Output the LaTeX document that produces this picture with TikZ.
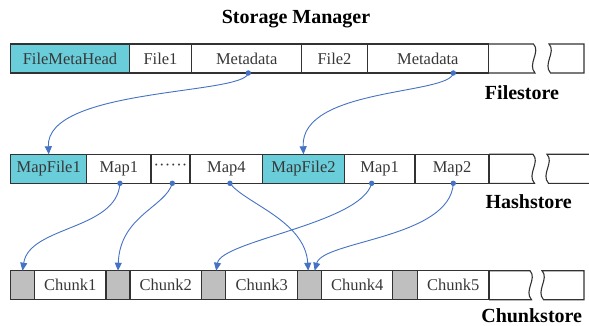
\documentclass[tikz,border=0pt]{standalone}
\usepackage{fontspec}
\setmainfont{Liberation Serif}
\usetikzlibrary{arrows.meta}
\definecolor{headc}{RGB}{105,205,218}
\definecolor{padc}{RGB}{191,191,191}
\definecolor{linkc}{RGB}{68,114,196}
\definecolor{edgec}{RGB}{50,50,50}
\definecolor{textc}{RGB}{55,55,55}
\tikzset{
  edge/.style={draw=edgec, line width=1.1pt},
  cell/.style={edge, minimum height=29pt, inner sep=0pt, outer sep=0pt,
    anchor=north west, text=textc, font=\fontsize{16.5}{18}\selectfont},
  head/.style={cell, fill=headc},
  pad/.style={cell, fill=padc},
  title/.style={font=\fontsize{20}{22}\selectfont\bfseries, text=black, inner sep=0pt},
  link/.style={draw=linkc, line width=0.9pt, -{Triangle[length=8pt,width=7pt]}},
  dot/.style={fill=linkc},
}
\begin{document}
\begin{tikzpicture}[x=1pt,y=-1pt]
\useasboundingbox (0,0) rectangle (589,326);

% titles
\node[title] (sm) at (296,19) {Storage Manager};
\node[title] (fs) at (522,93) {Filestore};
\node[title] (hs) at (528.7,201.7) {Hashstore};
\node[title] (cs) at (531.7,315.5) {Chunkstore};

% Filestore row
\node[head, minimum width=118.6pt] (fmh) at (10.7,44) {FileMetaHead};
\node[cell, minimum width=62.4pt] (file1) at (129.3,44) {File1};
\node[cell, minimum width=110pt] (meta1) at (191.7,44) {Metadata};
\node[cell, minimum width=65.6pt] (file2) at (301.7,44) {File2};
\node[cell, minimum width=121pt] (meta2) at (367.3,44) {Metadata};
\draw[edge] (meta2.north east) -- (533.5,44) .. controls (541,52) and (527,64) .. (535,73) -- (meta2.south east);
\draw[edge] (584,44) -- (549,44) .. controls (556.5,52) and (542.5,64) .. (550.5,73) -- (584,73) -- cycle;

% Hashstore row
\node[head, minimum width=76pt] (mf1) at (10.7,154.3) {MapFile1};
\node[cell, minimum width=64.3pt] (map1a) at (86.7,154.3) {Map1};
\node[cell, minimum width=39pt] (more) at (151,154.3) {\raisebox{3pt}{·\kern0.2pt·\kern0.2pt·\kern0.2pt·\kern0.2pt·\kern0.2pt·}};
\node[cell, minimum width=72.7pt] (map4) at (190,154.3) {Map4};
\node[head, minimum width=81.6pt] (mf2) at (262.7,154.3) {MapFile2};
\node[cell, minimum width=70.7pt] (map1b) at (344.3,154.3) {Map1};
\node[cell, minimum width=74pt] (map2) at (415,154.3) {Map2};
\draw[edge] (map2.north east) -- (533,154.3) .. controls (540.5,162.3) and (526.5,174.3) .. (534.5,183.3) -- (map2.south east);
\draw[edge] (589,154.3) -- (547,154.3) .. controls (554.5,162.3) and (540.5,174.3) .. (548.5,183.3) -- (589,183.3);

% Chunkstore row
\node[pad, minimum width=23.6pt] (g1) at (10.7,270.7) {};
\node[cell, minimum width=71.7pt] (ch1) at (34.3,270.7) {Chunk1};
\node[pad, minimum width=24pt] (g2) at (106,270.7) {};
\node[cell, minimum width=71.7pt] (ch2) at (130,270.7) {Chunk2};
\node[pad, minimum width=24pt] (g3) at (201.7,270.7) {};
\node[cell, minimum width=72pt] (ch3) at (225.7,270.7) {Chunk3};
\node[pad, minimum width=24pt] (g4) at (297.7,270.7) {};
\node[cell, minimum width=71pt] (ch4) at (321.7,270.7) {Chunk4};
\node[pad, minimum width=24.6pt] (g5) at (392.7,270.7) {};
\node[cell, minimum width=71.7pt] (ch5) at (417.3,270.7) {Chunk5};
\draw[edge] (ch5.north east) -- (530,270.7) .. controls (537.5,278.7) and (523.5,290.7) .. (531.5,299.7) -- (ch5.south east);
\draw[edge] (584,270.7) -- (542,270.7) .. controls (549.5,278.7) and (535.5,290.7) .. (543.5,299.7) -- (584,299.7) -- cycle;

% connector start points
\coordinate (dm1) at ([xshift=1.6pt]meta1.south);
\coordinate (dm2) at ([xshift=25.5pt]meta2.south);
\coordinate (da1) at ([xshift=1.1pt]map1a.south);
\coordinate (dmo) at ([xshift=1.8pt]more.south);
\coordinate (da4) at ([xshift=3.6pt]map4.south);
\coordinate (db1) at ([xshift=-8pt]map1b.south);
\coordinate (db2) at ([xshift=1.3pt]map2.south);

% Filestore -> Hashstore
\draw[link] (dm1) .. controls +(-3,22) and +(-3,-67) .. (mf1.north);
\draw[link] (dm2) .. controls +(-3,22) and +(-3,-67) .. (mf2.north);

% Hashstore -> Chunkstore
\draw[link] (da1) .. controls +(-3,47) and +(7,-45) .. (g1.north);
\draw[link] (dmo) .. controls +(-7,24) and +(2,-55) .. (g2.north);
\draw[link] (da4) .. controls +(15,20) and +(-3,-50) .. ([xshift=-1.5pt]g4.north);
\draw[link] (db1) .. controls +(-10,40) and +(5,-30) .. ([xshift=2.5pt]g3.north);
\draw[link] (db2) .. controls +(-3,55) and +(8,-30) .. ([xshift=5pt]g4.north);

% connector dots
\foreach \d in {dm1,dm2,da1,dmo,da4,db1,db2}
  \fill[dot] (\d) circle (2.7pt);
\end{tikzpicture}
\end{document}
